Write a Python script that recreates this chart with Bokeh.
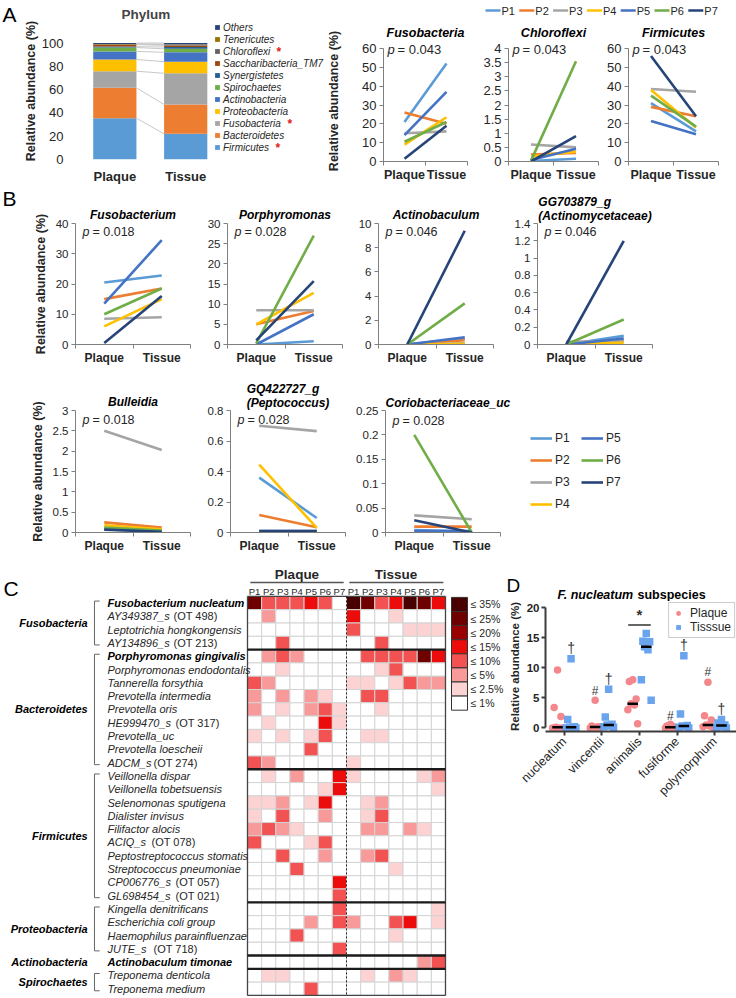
import numpy as np
from math import pi
from bokeh.plotting import figure
from bokeh.layouts import row, column
from bokeh.models import (Range1d, FixedTicker, NumeralTickFormatter, Legend,
                          LegendItem, Label, ColumnDataSource, Spacer)
from bokeh.core.properties import value
from bokeh.embed import file_html
from bokeh.resources import INLINE

FONT = "Liberation Sans"
AX = "#7f7f7f"
TXT = "#262626"

# ---------------- data ----------------
patients = ["P1", "P2", "P3", "P4", "P5", "P6", "P7"]
patient_colors = ["#5b9bd5", "#ed7d31", "#a5a5a5", "#ffc000", "#4472c4", "#70ad47", "#264478"]
sample_types = ["Plaque", "Tissue"]

# Panel A - phylum composition (bottom -> top)
phyla = ["Firmicutes", "Bacteroidetes", "Fusobacteria", "Proteobacteria", "Actinobacteria",
         "Spirochaetes", "Synergistetes", "Saccharibacteria_TM7", "Chloroflexi", "Tenericutes", "Others"]
phylum_colors = ["#5b9bd5", "#ed7d31", "#a5a5a5", "#ffc000", "#4472c4",
                 "#70ad47", "#255e91", "#9e480e", "#636363", "#997300", "#264478"]
phylum_plaque = [35.5, 26.0, 14.3, 10.0, 7.0, 3.3, 0.8, 1.8, 0.2, 0.3, 0.8]
phylum_tissue = [22.0, 25.2, 26.8, 10.0, 8.0, 3.0, 1.5, 1.4, 0.8, 0.3, 1.0]
phylum_starred = ["Chloroflexi", "Fusobacteria", "Firmicutes"]

fusobacteria_plaque = [21.0, 26.0, 15.0, 9.0, 14.0, 10.5, 1.5]
fusobacteria_tissue = [52.0, 20.0, 16.0, 23.5, 37.0, 21.0, 19.0]
chloroflexi_plaque = [0.02, 0.25, 0.6, 0.18, 0.05, 0.03, 0.0]
chloroflexi_tissue = [0.1, 0.3, 0.5, 0.35, 0.45, 3.55, 0.9]
firmicutes_plaque = [31.0, 29.0, 38.5, 38.0, 21.5, 35.0, 56.0]
firmicutes_tissue = [16.0, 24.0, 37.0, 18.0, 14.5, 18.5, 24.0]

# Panel B - genera
fusobacterium_plaque = [20.5, 15.0, 8.5, 6.0, 13.5, 10.0, 0.5]
fusobacterium_tissue = [22.8, 18.5, 9.0, 15.0, 34.5, 18.5, 16.0]
porphyromonas_plaque = [0.0, 5.0, 8.5, 5.0, 0.0, 0.3, 1.0]
porphyromonas_tissue = [0.8, 8.3, 8.5, 12.8, 7.5, 27.0, 15.7]
actinobaculum_plaque = [0.0, 0.0, 0.0, 0.0, 0.0, 0.0, 0.0]
actinobaculum_tissue = [0.5, 0.35, 0.1, 0.05, 0.6, 3.4, 9.4]
gg703879_plaque = [0.0, 0.0, 0.03, 0.01, 0.0, 0.0, 0.0]
gg703879_tissue = [0.1, 0.05, 0.04, 0.02, 0.07, 0.29, 1.2]
bulleidia_plaque = [0.1, 0.25, 2.5, 0.18, 0.08, 0.12, 0.07]
bulleidia_tissue = [0.05, 0.12, 2.03, 0.08, 0.02, 0.05, 0.02]
gq422727_plaque = [0.36, 0.115, 0.7, 0.445, 0.01, 0.005, 0.01]
gq422727_tissue = [0.095, 0.035, 0.665, 0.03, 0.01, 0.005, 0.01]
corio_plaque = [0.005, 0.012, 0.035, 0.0, 0.003, 0.2, 0.025]
corio_tissue = [0.002, 0.012, 0.027, 0.0, 0.003, 0.0, 0.0]

# Panel C - heatmap (level: 0 <=1%, 1 <=2.5%, 2 <=5%, 3 <=10%, 4 <=15%, 5 <=20%, 6 <=25%, 7 <=35%)
level_colors = ["#ffffff", "#fcd2d2", "#f89a9a", "#f25252", "#ec0c0c", "#990000", "#6e0000", "#480000"]
level_labels = ["\u2264 1%", "\u2264 2.5%", "\u2264 5%", "\u2264 10%", "\u2264 15%", "\u2264 20%", "\u2264 25%", "\u2264 35%"]
species_italic = ["Fusobacterium nucleatum", "AY349387_s", "Leptotrichia hongkongensis", "AY134896_s",
                  "Porphyromonas gingivalis", "Porphyromonas endodontalis", "Tannerella forsythia",
                  "Prevotella intermedia", "Prevotella oris", "HE999470_s", "Prevotella_uc",
                  "Prevotella loescheii", "ADCM_s",
                  "Veillonella dispar", "Veillonella tobetsuensis", "Selenomonas sputigena",
                  "Dialister invisus", "Filifactor alocis", "ACIQ_s", "Peptostreptococcus stomatis",
                  "Streptococcus pneumoniae", "CP006776_s", "GL698454_s",
                  "Kingella denitrificans", "Escherichia coli group", "Haemophilus parainfluenzae", "JUTE_s",
                  "Actinobaculum timonae",
                  "Treponema denticola", "Treponema medium"]
species_suffix = ["", "(OT 498)", "", "(OT 213)", "", "", "", "", "", "(OT 317)", "", "", "(OT 274)",
                  "", "", "", "", "", "(OT 078)", "", "", "(OT 057)", "(OT 021)",
                  "", "", "", "(OT 718)", "", "", ""]
species_bold = ["Fusobacterium nucleatum", "Porphyromonas gingivalis", "Actinobaculum timonae"]
phylum_groups = ["Fusobacteria", "Bacteroidetes", "Firmicutes", "Proteobacteria", "Actinobacteria", "Spirochaetes"]
phylum_group_sizes = [4, 9, 10, 4, 1, 2]
heat_levels = [
    [6, 3, 3, 3, 4, 3, 0, 7, 6, 3, 4, 7, 6, 4],
    [0, 2, 0, 0, 0, 0, 0, 4, 0, 0, 1, 0, 0, 0],
    [0, 0, 0, 0, 0, 0, 0, 3, 0, 0, 0, 1, 1, 1],
    [0, 0, 3, 0, 0, 0, 0, 0, 0, 3, 0, 0, 0, 0],
    [0, 2, 3, 2, 0, 0, 0, 0, 3, 3, 3, 3, 6, 4],
    [0, 0, 1, 0, 0, 0, 0, 0, 0, 1, 3, 0, 0, 0],
    [3, 2, 0, 0, 0, 0, 0, 1, 1, 0, 1, 3, 2, 2],
    [2, 0, 2, 0, 2, 1, 0, 0, 3, 3, 0, 0, 0, 0],
    [2, 0, 1, 0, 2, 3, 1, 0, 0, 1, 0, 0, 0, 0],
    [0, 1, 0, 0, 0, 4, 1, 0, 0, 0, 0, 0, 0, 0],
    [1, 0, 1, 0, 1, 3, 0, 0, 1, 1, 0, 0, 0, 0],
    [0, 0, 0, 0, 3, 0, 0, 0, 0, 0, 0, 0, 0, 0],
    [3, 2, 0, 0, 0, 0, 0, 1, 0, 0, 0, 0, 0, 0],
    [0, 1, 0, 2, 0, 0, 4, 1, 0, 0, 0, 0, 1, 2],
    [0, 0, 0, 0, 0, 1, 4, 0, 0, 0, 0, 0, 0, 1],
    [1, 1, 2, 0, 1, 4, 0, 0, 1, 2, 0, 0, 0, 0],
    [1, 0, 3, 0, 0, 2, 0, 0, 1, 3, 0, 0, 0, 0],
    [2, 3, 2, 1, 0, 0, 0, 0, 2, 2, 0, 2, 1, 0],
    [3, 0, 0, 0, 1, 3, 0, 0, 0, 0, 0, 0, 0, 0],
    [0, 0, 3, 0, 0, 2, 0, 0, 2, 3, 0, 0, 0, 0],
    [0, 0, 0, 3, 0, 0, 0, 0, 0, 0, 1, 0, 0, 0],
    [0, 0, 0, 0, 0, 0, 4, 0, 0, 0, 0, 0, 0, 0],
    [0, 0, 0, 0, 0, 0, 3, 0, 0, 0, 0, 0, 0, 0],
    [0, 0, 0, 0, 0, 0, 3, 0, 0, 0, 0, 0, 0, 1],
    [0, 0, 0, 0, 2, 0, 3, 2, 0, 0, 3, 4, 0, 1],
    [0, 0, 0, 3, 0, 0, 0, 0, 0, 0, 1, 0, 0, 0],
    [0, 0, 0, 0, 0, 0, 3, 0, 0, 0, 0, 0, 0, 0],
    [0, 0, 0, 0, 0, 0, 0, 0, 0, 0, 0, 0, 2, 3],
    [0, 1, 1, 0, 0, 0, 0, 0, 1, 0, 2, 1, 0, 0],
    [0, 0, 0, 0, 3, 0, 0, 0, 0, 0, 0, 0, 0, 0],
]

# Panel D - F. nucleatum subspecies
subspecies = ["nucleatum", "vincentii", "animalis", "fusiforme", "polymorphum"]
sub_plaque = [[9.6, 3.4, 1.9, 0.1, 0.0, 0.0, 0.0],
              [4.6, 0.3, 0.2, 0.15, 0.1, 0.0, 0.0],
              [8.0, 7.7, 4.8, 4.0, 3.8, 3.0, 0.7],
              [0.6, 0.3, 0.2, 0.1, 0.1, 0.0, 0.0],
              [7.6, 2.0, 1.3, 0.5, 0.3, 0.2, 0.1]]
sub_tissue = [[11.5, 1.4, 0.2, 0.1, 0.1, 0.0, 0.0],
              [6.4, 1.8, 0.6, 0.5, 0.3, 0.2, 0.1],
              [15.7, 14.4, 14.3, 13.5, 13.0, 8.0, 4.6],
              [12.0, 2.3, 0.4, 0.3, 0.2, 0.1, 0.0],
              [1.4, 0.8, 0.5, 0.4, 0.2, 0.1, 0.0]]
dagger_subspecies = [0, 1, 3, 4]
dagger_y = [13.3, 8.1, 13.8, 3.1]
hash_subspecies = [1, 3, 4]
hash_y = [6.1, 1.9, 9.3]
star_subspecies = 2
star_y = 17.1


# ---------------- helpers ----------------
def blank(width, height):
    p = figure(width=width, height=height, x_range=Range1d(0, width), y_range=Range1d(0, height),
               title=None, x_axis_location=None, y_axis_location=None, output_backend="svg",
               toolbar_location=None, min_border=0)
    p.outline_line_color = None
    p.grid.grid_line_color = None
    p.grid.visible = False
    return p


def letter_fig(width, height, letter, top_px):
    p = blank(width, height)
    p.text(x=[2], y=[height - top_px], text=[letter], text_font=value(FONT), text_font_size="21px",
           text_align="left", text_baseline="top", text_color="black")
    return p


def pair_plot(width, height, left, right, top, bottom, title, ymax, ystep, plaque, tissue, pval,
              ylabel=None, tick_size="12px", title_size="12.5px", title_standoff=4,
              p_size="13px", p_dx=4, p_dy=-2, ylabel_standoff=5, xlab_size="12.5px",
              head_px=0, frame_px=None, x_end=2.0, title_align="center"):
    y_end = ymax
    if head_px and frame_px:
        y_end = ymax * (1 + head_px / frame_px)
    p = figure(width=width, height=height, x_range=Range1d(0, x_end), y_range=Range1d(0, y_end),
               title=title, output_backend="svg", toolbar_location=None,
               min_border_left=left, min_border_right=right,
               min_border_top=top, min_border_bottom=bottom)
    p.outline_line_color = None
    p.grid.grid_line_color = None
    p.title.text_font = FONT
    p.title.text_font_style = "bold italic"
    p.title.text_font_size = title_size
    p.title.align = title_align
    p.title.standoff = title_standoff
    p.title.text_color = "black"
    rs = []
    for i in range(len(patients)):
        rs.append(p.line([0.5, 1.5], [plaque[i], tissue[i]],
                         line_color=patient_colors[i], line_width=2.6))
    ticks = [round(float(t), 6) for t in np.arange(0, ymax + ystep / 2, ystep)]
    ya = p.yaxis[0]
    ya.ticker = FixedTicker(ticks=ticks)
    ya.formatter = NumeralTickFormatter(format="0.[00]")
    ya.bounds = (0, ymax)
    ya.axis_line_color = AX
    ya.major_tick_line_color = AX
    ya.major_tick_out = 4
    ya.major_tick_in = 0
    ya.minor_tick_line_color = None
    ya.major_label_text_font = FONT
    ya.major_label_text_font_size = tick_size
    ya.major_label_text_color = TXT
    ya.major_label_standoff = 3
    if ylabel:
        ya.axis_label = ylabel
        ya.axis_label_text_font = FONT
        ya.axis_label_text_font_style = "bold"
        ya.axis_label_text_font_size = "12.5px"
        ya.axis_label_text_color = TXT
        ya.axis_label_standoff = ylabel_standoff
    xa = p.xaxis[0]
    xa.ticker = FixedTicker(ticks=[0.5, 1.5], minor_ticks=[0, 1, 2])
    xa.major_label_overrides = {0.5: sample_types[0], 1.5: sample_types[1]}
    xa.bounds = (0, 2)
    xa.axis_line_color = AX
    xa.major_tick_line_color = None
    xa.major_tick_out = 0
    xa.minor_tick_line_color = AX
    xa.minor_tick_out = 4
    xa.minor_tick_in = 0
    xa.major_label_text_font = FONT
    xa.major_label_text_font_style = "bold"
    xa.major_label_text_font_size = xlab_size
    xa.major_label_text_color = TXT
    xa.major_label_standoff = 2
    p.add_layout(Label(x=0, y=ymax, x_offset=p_dx, y_offset=p_dy, text="p",
                       text_font=FONT, text_font_style="italic", text_font_size=p_size,
                       text_baseline="middle", text_color=TXT))
    p.add_layout(Label(x=0, y=ymax, x_offset=p_dx + 10, y_offset=p_dy, text="= " + pval,
                       text_font=FONT, text_font_size=p_size, text_baseline="middle", text_color=TXT))
    return p, rs


# ---------------- Row A (height 186) ----------------
letterA = letter_fig(20, 186, "A", 2)

fA0 = figure(width=304, height=186, x_range=Range1d(0.431, 1 + (324 - 111) / 72),
             y_range=Range1d(0, 117.6),
             title="Phylum", output_backend="svg", toolbar_location=None,
             min_border_left=50, min_border_right=0, min_border_top=22, min_border_bottom=24)
fA0.outline_line_color = None
fA0.grid.grid_line_color = None
fA0.title.text_font = FONT
fA0.title.text_font_style = "bold"
fA0.title.text_font_size = "13.5px"
fA0.title.align = "left"
fA0.title.offset = 47
fA0.title.standoff = 2
bar_w = 0.61
cum_p = np.cumsum([0] + phylum_plaque)
cum_t = np.cumsum([0] + phylum_tissue)
bar_renderers = []
for k, name in enumerate(phyla):
    r = fA0.vbar(x=[1, 2], bottom=[cum_p[k], cum_t[k]], top=[cum_p[k + 1], cum_t[k + 1]],
                 width=bar_w, fill_color=phylum_colors[k], line_color=None)
    bar_renderers.append(r)
fA0.segment(x0=[1 + bar_w / 2] * len(phyla), y0=list(cum_p[1:]),
            x1=[2 - bar_w / 2] * len(phyla), y1=list(cum_t[1:]),
            line_color="#c8c8c8", line_width=1)
ya = fA0.yaxis[0]
ya.ticker = FixedTicker(ticks=[0, 20, 40, 60, 80, 100])
ya.axis_line_color = None
ya.major_tick_line_color = None
ya.minor_tick_line_color = None
ya.major_label_text_font = FONT
ya.major_label_text_font_size = "13px"
ya.major_label_text_color = TXT
ya.major_label_standoff = 5
ya.axis_label = "Relative abundance (%)"
ya.axis_label_text_font = FONT
ya.axis_label_text_font_style = "bold"
ya.axis_label_text_font_size = "12.5px"
ya.axis_label_text_color = TXT
ya.axis_label_standoff = 1
xa = fA0.xaxis[0]
xa.ticker = FixedTicker(ticks=[1, 2])
xa.major_label_overrides = {1: sample_types[0], 2: sample_types[1]}
xa.axis_line_color = None
xa.major_tick_line_color = None
xa.minor_tick_line_color = None
xa.major_label_text_font = FONT
xa.major_label_text_font_style = "bold"
xa.major_label_text_font_size = "13px"
xa.major_label_text_color = TXT
xa.major_label_standoff = 3
items = [LegendItem(label=phyla[k], renderers=[bar_renderers[k]]) for k in range(len(phyla) - 1, -1, -1)]
pitch = 12
legA = Legend(items=items, location=(140, 6), glyph_width=6, glyph_height=6, label_height=12,
              spacing=0, padding=0, margin=0, label_standoff=3, border_line_color=None,
              background_fill_alpha=0, label_text_font=FONT, label_text_font_style="italic",
              label_text_font_size="10px", label_text_color=TXT)
fA0.add_layout(legA)
star_dx = {"Chloroflexi": 202, "Fusobacteria": 213, "Firmicutes": 201}
order_top = [phyla[k] for k in range(len(phyla) - 1, -1, -1)]
for name in phylum_starred:
    kk = order_top.index(name)
    cy = 6 + (len(phyla) - kk - 0.5) * pitch
    fA0.add_layout(Label(x=star_dx[name], y=cy, x_units="screen", y_units="screen", text="*",
                         text_color="#e02020", text_font=FONT, text_font_size="12px",
                         text_baseline="middle", text_font_style="bold"))

# legend strip for the three phylum line plots
stripA = blank(412, 22)
sx0 = [161 + 33.8 * i for i in range(len(patients))]
stripA.segment(x0=sx0, y0=[12] * 7, x1=[x + 15 for x in sx0], y1=[12] * 7,
               line_color=patient_colors, line_width=2.5)
stripA.text(x=[x + 16 for x in sx0], y=[12] * 7, text=patients, text_font=value(FONT),
            text_font_size="11px", text_align="left", text_baseline="middle", text_color=TXT)

kwA = dict(tick_size="13px", title_standoff=1, head_px=8, frame_px=113, p_dy=-1)
fA1, _ = pair_plot(148, 164, 57, 5, 18, 25, "Fusobacteria", 60, 10, fusobacteria_plaque,
                   fusobacteria_tissue, "0.043", ylabel="Relative abundance (%)",
                   ylabel_standoff=18, **kwA)
fA2, _ = pair_plot(130, 164, 36, 4, 18, 25, "Chloroflexi", 4, 0.5, chloroflexi_plaque,
                   chloroflexi_tissue, "0.043", **kwA)
fA3, _ = pair_plot(134, 164, 26, 18, 18, 25, "Firmicutes", 60, 10, firmicutes_plaque,
                   firmicutes_tissue, "0.043", **kwA)

rowA = row(column(letterA), column(fA0), column(column(stripA), row(fA1, fA2, fA3)))

# ---------------- Row B1 (height 184) ----------------
kwB = dict(tick_size="11.5px", title_size="12px", p_size="12.5px", p_dx=7, xlab_size="12px")
letterB = letter_fig(20, 184, "B", 0)
fB1a, _ = pair_plot(177, 184, 55, 7, 37, 26, "Fusobacterium", 40, 10, fusobacterium_plaque,
                    fusobacterium_tissue, "0.018", ylabel="Relative abundance (%)",
                    title_standoff=4, p_dy=-8, **kwB)
fB1b, _ = pair_plot(150, 184, 30, 5, 37, 26, "Porphyromonas", 30, 5, porphyromonas_plaque,
                    porphyromonas_tissue, "0.028", title_standoff=4, p_dy=-8, **kwB)
fB1c, _ = pair_plot(151, 184, 31, 5, 37, 26, "Actinobaculum", 10, 2, actinobaculum_plaque,
                    actinobaculum_tissue, "0.046", title_standoff=4, p_dy=-8, **kwB)
fB1d, _ = pair_plot(159, 184, 39, 5, 37, 26, "GG703879_g\n(Actinomycetaceae)", 1.4, 0.2,
                    gg703879_plaque, gg703879_tissue, "0.046", title_standoff=2, p_dy=-8, **kwB)
rowB1 = row(column(letterB), column(fB1a), column(fB1b), column(fB1c), column(fB1d),
            Spacer(width=79, height=184))

# ---------------- Row B2 (height 186) ----------------
fB2a, _ = pair_plot(197, 186, 75, 7, 40, 24, "Bulleidia", 3, 0.5, bulleidia_plaque,
                    bulleidia_tissue, "0.018", ylabel="Relative abundance (%)",
                    title_standoff=3, p_dy=-9, **kwB)
fB2b, _ = pair_plot(153, 186, 33, 5, 40, 24, "GQ422727_g\n(Peptococcus)", 0.8, 0.2,
                    gq422727_plaque, gq422727_tissue, "0.028", title_standoff=2, p_dy=-9, **kwB)
fB2c, rsB = pair_plot(386, 186, 35, 0, 40, 24, "Coriobacteriaceae_uc", 0.25, 0.05,
                      corio_plaque, corio_tissue, "0.028", title_standoff=2, p_dy=-10,
                      x_end=2 * 351 / 115, title_align="left", **kwB)
fB2c.add_layout(Legend(items=[LegendItem(label=patients[i], renderers=[rsB[i]]) for i in range(7)],
                       location=(145, 20), nrows=4, glyph_width=22, glyph_height=16, label_height=16,
                       label_standoff=3, spacing=6, padding=0, margin=0, border_line_color=None,
                       background_fill_alpha=0, label_text_font=FONT, label_text_font_size="12px",
                       label_text_color=TXT))
rowB2 = row(column(fB2a), column(fB2b), column(fB2c))

# ---------------- Row C (heatmap, height 440) ----------------
PXU = 14.143
heat = figure(width=505, height=440, x_range=Range1d(-247 / PXU, (505 - 247) / PXU),
              y_range=Range1d(30.08, -3.0), title=None, x_axis_location=None, y_axis_location=None,
              output_backend="svg", toolbar_location=None, min_border=0)
heat.outline_line_color = None
heat.grid.grid_line_color = None
heat.grid.visible = False
cx, cy, cc = [], [], []
for r_i, lev_row in enumerate(heat_levels):
    for c_i, lev in enumerate(lev_row):
        cx.append(c_i + 0.5)
        cy.append(r_i + 0.5)
        cc.append(level_colors[lev])
heat.rect(x="x", y="y", width=1, height=1, fill_color="c", line_color="#d4d4d4", line_width=1,
          source=ColumnDataSource(dict(x=cx, y=cy, c=cc)))
n_rows = len(heat_levels)
n_cols = 14
heat.segment(x0=[0, n_cols, 0, 0], y0=[0, 0, 0, n_rows], x1=[0, n_cols, n_cols, n_cols],
             y1=[n_rows, n_rows, 0, n_rows], line_color="#444444", line_width=1.3)
bounds = list(np.cumsum(phylum_group_sizes)[:-1])
heat.segment(x0=[0] * len(bounds), y0=bounds, x1=[n_cols] * len(bounds), y1=bounds,
             line_color="#1a1a1a", line_width=2.4)
heat.segment(x0=[7], y0=[0], x1=[7], y1=[n_rows], line_color="#222222", line_width=1, line_dash="2 2")
heat.text(x=[3.5, 10.5], y=[-1.62, -1.62], text=sample_types, text_font=value(FONT),
          text_font_size="13.5px", text_font_style="bold", text_align="center",
          text_baseline="middle", text_color=TXT)
heat.segment(x0=[0.2, 7.2], y0=[-1.05, -1.05], x1=[6.8, 13.85], y1=[-1.05, -1.05],
             line_color="#555555", line_width=1.5)
heat.text(x=[c + 0.5 for c in range(n_cols)], y=[-0.36] * n_cols, text=patients + patients,
          text_font=value(FONT), text_font_size="9.5px", text_align="center",
          text_baseline="middle", text_color=TXT)
SP_X = -9.9
reg_x, reg_y, reg_t, b_x, b_y, b_t = [], [], [], [], [], []
for i, name in enumerate(species_italic):
    if name in species_bold:
        b_x.append(SP_X); b_y.append(i + 0.5); b_t.append(name)
    else:
        reg_x.append(SP_X); reg_y.append(i + 0.5); reg_t.append(name)
heat.text(x=reg_x, y=reg_y, text=reg_t, text_font=value(FONT), text_font_size="11px",
          text_font_style="italic", text_align="left", text_baseline="middle", text_color=TXT)
heat.text(x=b_x, y=b_y, text=b_t, text_font=value(FONT), text_font_size="11px",
          text_font_style="bold italic", text_align="left", text_baseline="middle", text_color="black")
suffix_offset = {"AY349387_s": 66, "AY134896_s": 66, "HE999470_s": 68, "ADCM_s": 46, "ACIQ_s": 44,
                 "CP006776_s": 68, "GL698454_s": 68, "JUTE_s": 46}
for i, suf in enumerate(species_suffix):
    if suf:
        heat.text(x=[SP_X], y=[i + 0.5], text=[suf], x_offset=suffix_offset[species_italic[i]],
                  text_font=value(FONT), text_font_size="11px", text_align="left",
                  text_baseline="middle", text_color=TXT)
start = 0
ph_y, br_xs, br_ys = [], [], []
for g, size in zip(phylum_groups, phylum_group_sizes):
    top = start + 0.5
    bot = start + size - 0.5
    ph_y.append((top + bot) / 2)
    if size > 1:
        br_xs.append([-10.45, -10.82, -10.82, -10.45])
        br_ys.append([top - 0.15, top - 0.15, bot + 0.15, bot + 0.15])
    start += size
heat.text(x=[-11.3] * len(phylum_groups), y=ph_y, text=phylum_groups, text_font=value(FONT),
          text_font_size="11px", text_font_style="bold italic", text_align="right",
          text_baseline="middle", text_color="black")
heat.multi_line(xs=br_xs, ys=br_ys, line_color="#666666", line_width=1)
lg_h = 1.06
lg_levels = list(range(len(level_colors) - 1, -1, -1))
lg_y = [0.075 + (i + 0.5) * lg_h for i in range(len(lg_levels))]
heat.rect(x=[14.99] * len(lg_levels), y=lg_y, width=1.13, height=lg_h,
          fill_color=[level_colors[l] for l in lg_levels], line_color="#333333", line_width=1)
heat.text(x=[15.78] * len(lg_levels), y=lg_y, text=[level_labels[l] for l in lg_levels],
          text_font=value(FONT), text_font_size="10.5px", text_align="left",
          text_baseline="middle", text_color=TXT)
heat.text(x=[-17.25], y=[-0.6], text=["C"], text_font=value(FONT), text_font_size="21px",
          text_align="left", text_baseline="middle", text_color="black")

# ---------------- Panel D ----------------
dtop = blank(231, 45)
dtop.text(x=[1], y=[16], text=["D"], text_font=value(FONT), text_font_size="19px",
          text_align="left", text_baseline="middle", text_color="black")
dtop.text(x=[52], y=[7], text=["F. nucleatum"], text_font=value(FONT), text_font_size="12.5px",
          text_font_style="bold italic", text_align="left", text_baseline="middle", text_color="black")
dtop.text(x=[52], y=[7], x_offset=80, text=["subspecies"], text_font=value(FONT),
          text_font_size="12.5px", text_font_style="bold", text_align="left",
          text_baseline="middle", text_color="black")

fD = figure(width=231, height=395, x_range=Range1d(-0.5, 4.58), y_range=Range1d(-0.6, 21.0),
            title=None, output_backend="svg", toolbar_location=None, min_border_left=38,
            min_border_right=0, min_border_top=0, min_border_bottom=265)
fD.outline_line_color = None
fD.grid.grid_line_color = None
jit = [0.0, -0.09, 0.09, -0.045, 0.045, -0.13, 0.13]
grp_off = 0.18
px_, py_, tx_, ty_ = [], [], [], []
med_x0, med_x1, med_y = [], [], []
for s in range(len(subspecies)):
    for j, v in enumerate(sub_plaque[s]):
        px_.append(s - grp_off + jit[j]); py_.append(v)
    for j, v in enumerate(sub_tissue[s]):
        tx_.append(s + grp_off + jit[j]); ty_.append(v)
    for off, vals in ((-grp_off, sub_plaque[s]), (grp_off, sub_tissue[s])):
        med_x0.append(s + off - 0.14); med_x1.append(s + off + 0.14)
        med_y.append(float(np.median(vals)))
rP = fD.scatter(px_, py_, marker="circle", size=7.5, fill_color="#f4878b", line_color=None)
rT = fD.scatter(tx_, ty_, marker="square", size=7.5, fill_color="#6aa3ee", line_color=None)
fD.segment(x0=med_x0, y0=med_y, x1=med_x1, y1=med_y, line_color="black", line_width=2.5)
fD.text(x=[s + grp_off for s in dagger_subspecies], y=dagger_y, text=["\u2020"] * len(dagger_y),
        text_font=value(FONT), text_font_size="14px", text_align="center",
        text_baseline="middle", text_color="#333333")
fD.text(x=[s - grp_off for s in hash_subspecies], y=hash_y, text=["#"] * len(hash_y),
        text_font=value(FONT), text_font_size="12px", text_align="center",
        text_baseline="middle", text_color="#333333")
fD.segment(x0=[star_subspecies - grp_off - 0.12], y0=[star_y], x1=[star_subspecies + grp_off + 0.12],
           y1=[star_y], line_color="#333333", line_width=1.5)
fD.text(x=[star_subspecies], y=[star_y], text=["*"], y_offset=-2, text_font=value(FONT),
        text_font_size="15px", text_font_style="bold", text_align="center",
        text_baseline="bottom", text_color="#333333")
ya = fD.yaxis[0]
ya.ticker = FixedTicker(ticks=[0, 5, 10, 15, 20])
ya.bounds = (0, 20)
ya.axis_line_color = "#3c3c3c"
ya.axis_line_width = 2
ya.major_tick_line_color = "#3c3c3c"
ya.major_tick_line_width = 2
ya.major_tick_out = 4
ya.major_tick_in = 0
ya.minor_tick_line_color = None
ya.major_label_text_font = FONT
ya.major_label_text_font_style = "bold"
ya.major_label_text_font_size = "11.5px"
ya.major_label_text_color = TXT
ya.major_label_standoff = 2
ya.axis_label = "Relative abundance (%)"
ya.axis_label_text_font = FONT
ya.axis_label_text_font_style = "bold"
ya.axis_label_text_font_size = "11.5px"
ya.axis_label_text_color = TXT
ya.axis_label_standoff = 3
xa = fD.xaxis[0]
xa.ticker = FixedTicker(ticks=list(range(len(subspecies))))
xa.major_label_overrides = {i: s for i, s in enumerate(subspecies)}
xa.major_label_orientation = pi / 4
xa.axis_line_color = "#3c3c3c"
xa.axis_line_width = 2
xa.major_tick_line_color = "#3c3c3c"
xa.major_tick_line_width = 2
xa.major_tick_out = 4
xa.major_tick_in = 0
xa.minor_tick_line_color = None
xa.major_label_text_font = FONT
xa.major_label_text_font_size = "12.5px"
xa.major_label_text_color = TXT
xa.major_label_standoff = 4
fD.add_layout(Legend(items=[LegendItem(label="Plaque", renderers=[rP]),
                            LegendItem(label="Tisssue", renderers=[rT])],
                     location="top_right", margin=1, padding=3, spacing=0, glyph_width=12,
                     glyph_height=12, label_height=12, label_standoff=6,
                     border_line_color="#9a9a9a", border_line_width=1,
                     label_text_font=FONT, label_text_font_size="12px", label_text_color=TXT))

rowCD = row(column(heat), column(column(dtop), column(fD)))

layout = column(rowA, rowB1, rowB2, rowCD)
open("out.html", "w").write(file_html(layout, INLINE))
